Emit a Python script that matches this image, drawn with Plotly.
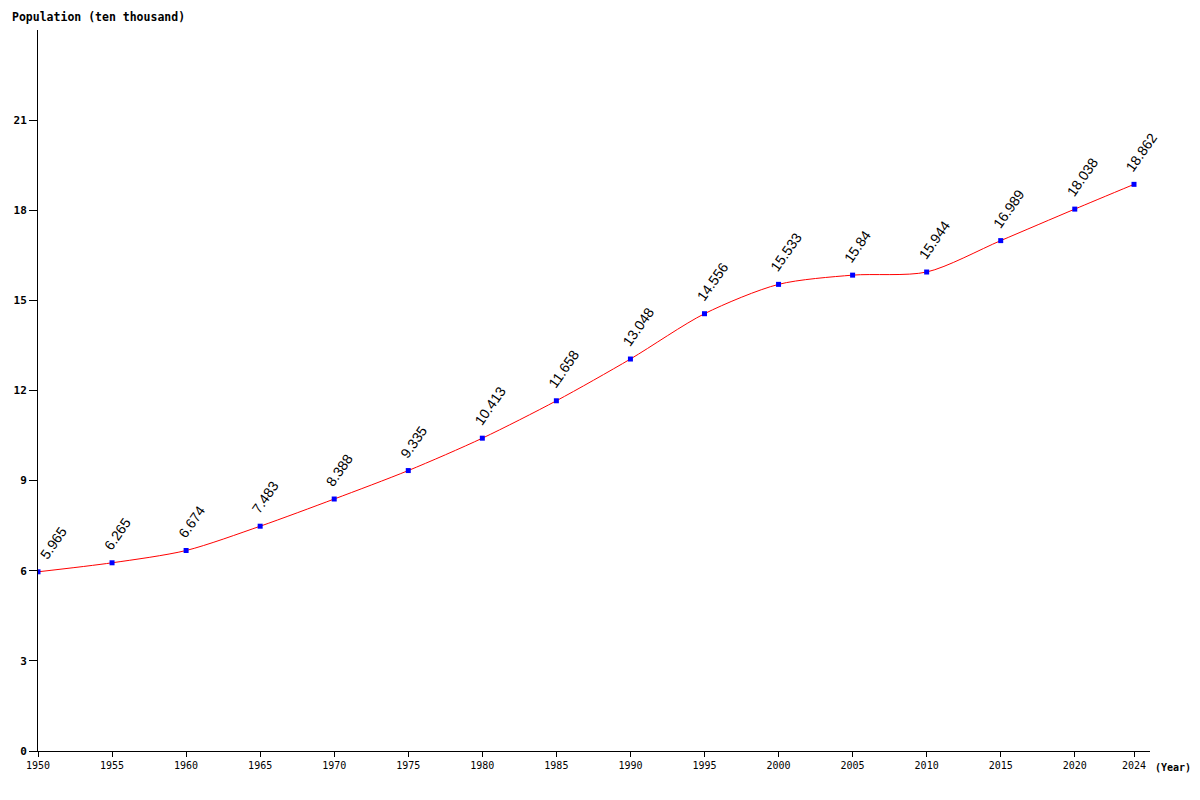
import plotly.graph_objects as go

years = [1950, 1955, 1960, 1965, 1970, 1975, 1980, 1985, 1990, 1995, 2000, 2005, 2010, 2015, 2020, 2024]
population = [5.965, 6.265, 6.674, 7.483, 8.388, 9.335, 10.413, 11.658, 13.048, 14.556, 15.533, 15.84, 15.944, 16.989, 18.038, 18.862]
x_ticks = years
y_ticks = [0, 3, 6, 9, 12, 15, 18, 21]

W, H = 1192, 792
L, R, T, B = 30, 50, 22, 49
PW, PH = W - L - R, H - T - B

fig = go.Figure()
fig.add_trace(go.Scatter(
    x=years, y=population, mode="lines+markers",
    line=dict(color="red", width=1, shape="spline", smoothing=0.8),
    marker=dict(symbol="square", size=5, color="blue"),
    hoverinfo="x+y",
))

for i, (x, y) in enumerate(zip(years, population)):
    xs, ys = -14, 7
    if i == 0:
        xs += 10          # keep first label clear of the y axis
    fig.add_annotation(
        x=x, y=y, text=f"{y:g}", showarrow=False, textangle=-55,
        xanchor="left", yanchor="bottom", xshift=xs, yshift=ys,
        font=dict(family="Liberation Sans, Arial", size=14, color="black"),
    )

fig.add_annotation(
    xref="paper", yref="paper", x=-28 / PW, y=1 + 13 / PH, xanchor="left", yanchor="middle",
    text="Population (ten thousand)", showarrow=False,
    font=dict(family="DejaVu Sans Mono", size=11.5, color="black", weight="bold"),
)
fig.add_annotation(
    xref="paper", yref="paper", x=1 + 3 / PW, y=-16 / PH, xanchor="left", yanchor="middle",
    text="(Year)", showarrow=False,
    font=dict(family="DejaVu Sans Mono", size=10, color="black", weight="bold"),
)

fig.update_layout(
    width=W, height=H,
    margin=dict(l=L, r=R, t=T, b=B, autoexpand=False),
    paper_bgcolor="white", plot_bgcolor="white",
    showlegend=False,
    xaxis=dict(
        range=[1950, 2025.08], tickvals=x_ticks, ticktext=[str(t) for t in x_ticks],
        showgrid=False, zeroline=False, showline=True, linecolor="black", linewidth=1,
        ticks="outside", ticklen=5, tickcolor="black", automargin=False,
        tickfont=dict(family="DejaVu Sans Mono", size=10, color="black"),
    ),
    yaxis=dict(
        range=[0, 24], tickvals=y_ticks,
        showgrid=False, zeroline=False, showline=True, linecolor="black", linewidth=1,
        ticks="outside", ticklen=8, tickcolor="black", automargin=False,
        tickfont=dict(family="DejaVu Sans Mono", size=11, color="black", weight="bold"),
    ),
)

fig.write_html("out.html")
